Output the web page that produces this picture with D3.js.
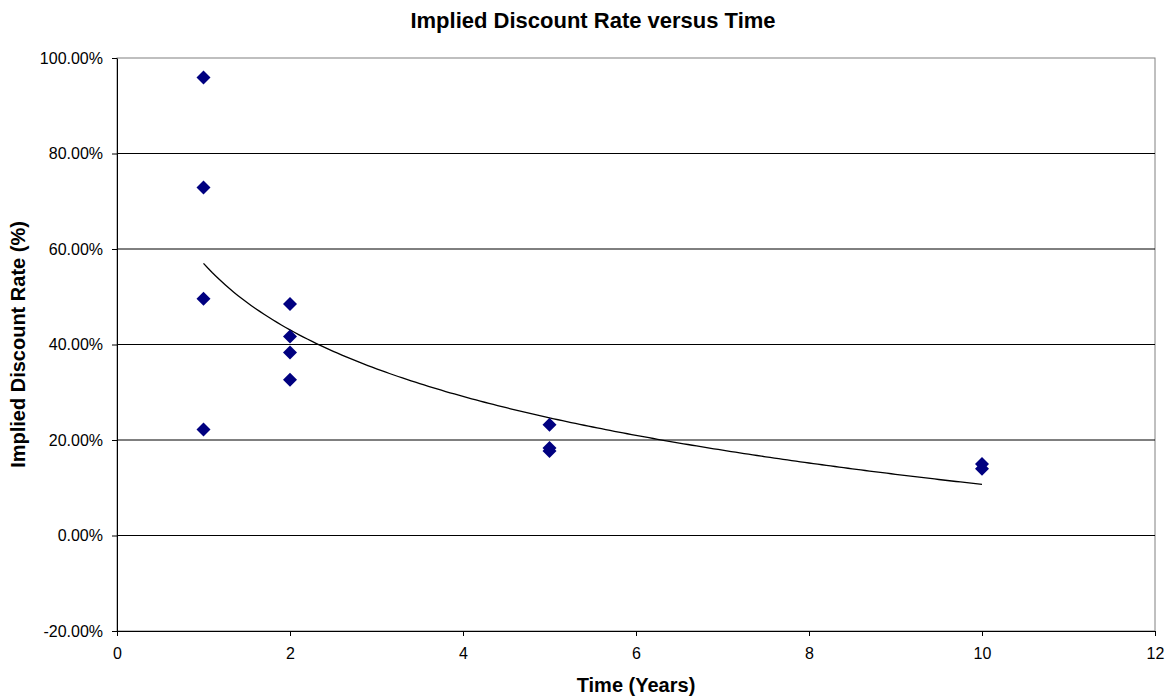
<!DOCTYPE html>
<html>
    <head>
        <title>Implied Discount Rate versus Time</title>
        <meta charset="utf-8">
        <script src="https://d3js.org/d3.v7.min.js"></script>
        <style>
            body { margin: 0; background: #fff; }
            svg text { font-family: Arial, "Liberation Sans", sans-serif; fill: #000; }
        </style>
    </head>
    <body>
        <div id="container"></div>
        <script>
            // Data
            const times = [1, 1, 1, 1, 2, 2, 2, 2, 5, 5, 5, 10, 10]
            const rates = [0.959, 0.729, 0.496, 0.222, 0.485, 0.417, 0.383, 0.326, 0.232, 0.183, 0.177, 0.150, 0.140]
            const xTicks = [0, 2, 4, 6, 8, 10, 12]
            const yTicks = [-0.2, 0, 0.2, 0.4, 0.6, 0.8, 1.0]
            // Logarithmic trendline, end values
            const trendX = [1, 10]
            const trendY = [0.570, 0.107]

            const w = 1168
            const h = 700
            const margin = { top: 58, right: 13, bottom: 69, left: 117 }

            const xScale = d3.scaleLinear()
                .domain([0, 12])
                .range([margin.left, w - margin.right])

            const yScale = d3.scaleLinear()
                .domain([-0.2, 1.0])
                .range([h - margin.bottom, margin.top])

            const svg = d3.select("#container")
                .append("svg")
                .attr("width", w)
                .attr("height", h)

            // Title
            svg.append("text")
                .attr("x", 593)
                .attr("y", 28)
                .attr("text-anchor", "middle")
                .style("font-size", "22px")
                .style("font-weight", "bold")
                .text("Implied Discount Rate versus Time")

            // Plot border (top / right)
            svg.append("rect")
                .attr("x", xScale(0))
                .attr("y", yScale(1.0))
                .attr("width", xScale(12) - xScale(0))
                .attr("height", yScale(-0.2) - yScale(1.0))
                .attr("fill", "none")
                .attr("stroke", "#808080")

            // Gridlines
            svg.append("g")
                .selectAll("line")
                .data(yTicks.filter(d => d > -0.2 && d < 1.0))
                .enter()
                .append("line")
                .attr("x1", xScale(0))
                .attr("x2", xScale(12))
                .attr("y1", d => yScale(d))
                .attr("y2", d => yScale(d))
                .attr("stroke", "#000")
                .attr("stroke-width", 1)

            // Axes
            const pct = d => (d * 100).toFixed(2) + "%"

            const xAxis = d3.axisBottom(xScale)
                .tickValues(xTicks)
                .tickFormat(d => String(d))
                .tickSizeInner(5)
                .tickSizeOuter(0)
                .tickPadding(12)

            const yAxis = d3.axisLeft(yScale)
                .tickValues(yTicks)
                .tickFormat(pct)
                .tickSizeInner(5)
                .tickSizeOuter(0)
                .tickPadding(9)

            const gx = svg.append("g")
                .attr("transform", "translate(0," + (h - margin.bottom) + ")")
                .call(xAxis)
            const gy = svg.append("g")
                .attr("transform", "translate(" + margin.left + ",0)")
                .call(yAxis)

            ;[gx, gy].forEach(g => {
                g.select(".domain").attr("stroke", "#000")
                g.selectAll(".tick line").attr("stroke", "#000")
                g.selectAll(".tick text")
                    .style("font-size", "16px")
                    .style("font-family", "Arial, 'Liberation Sans', sans-serif")
                    .attr("fill", "#000")
            })

            // Trendline: y = a + b ln(x)
            const b = (trendY[1] - trendY[0]) / (Math.log(trendX[1]) - Math.log(trendX[0]))
            const a = trendY[0] - b * Math.log(trendX[0])
            const trendPts = d3.range(trendX[0], trendX[1] + 0.001, 0.05).map(x => [x, a + b * Math.log(x)])
            svg.append("path")
                .datum(trendPts)
                .attr("d", d3.line().x(d => xScale(d[0])).y(d => yScale(d[1])))
                .attr("fill", "none")
                .attr("stroke", "#000")
                .attr("stroke-width", 1.3)

            // Points
            svg.append("g")
                .selectAll("path")
                .data(times.map((t, i) => [t, rates[i]]))
                .enter()
                .append("path")
                .attr("transform", d => "translate(" + xScale(d[0]) + "," + yScale(d[1]) + ")")
                .attr("d", "M0,-7L7,0L0,7L-7,0Z")
                .attr("fill", "#000080")

            // Axis titles
            svg.append("text")
                .attr("x", (xScale(0) + xScale(12)) / 2)
                .attr("y", 692)
                .attr("text-anchor", "middle")
                .style("font-size", "20px")
                .style("font-weight", "bold")
                .text("Time (Years)")

            svg.append("text")
                .attr("transform", "translate(25," + (yScale(1.0) + yScale(-0.2)) / 2 + ")rotate(-90)")
                .attr("text-anchor", "middle")
                .style("font-size", "20px")
                .style("font-weight", "bold")
                .text("Implied Discount Rate (%)")
        </script>
    </body>
</html>
